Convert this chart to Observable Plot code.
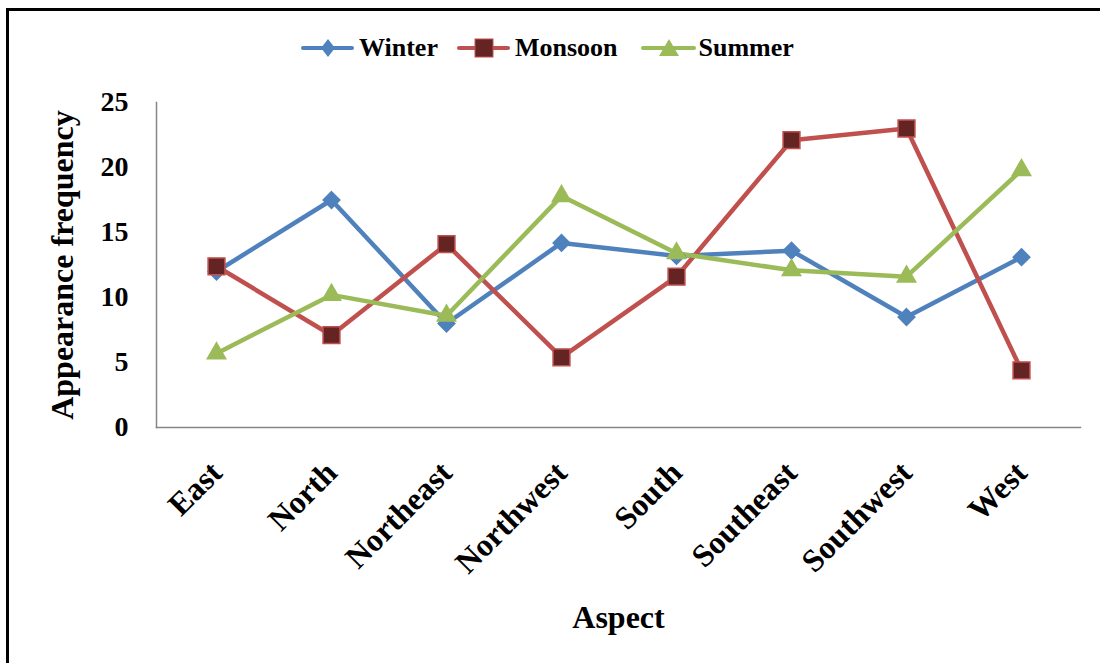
<!DOCTYPE html>
<html>
<head>
<meta charset="utf-8">
<script src="https://cdn.jsdelivr.net/npm/d3@7"></script>
<script src="https://cdn.jsdelivr.net/npm/@observablehq/plot@0.6"></script>
<style>
  html, body { margin: 0; padding: 0; background: #fff; }
  #wrap { position: relative; width: 1100px; height: 663px; overflow: hidden; font-family: "Liberation Serif", "Times New Roman", serif; }
  #frame { position: absolute; left: 6px; top: 8px; width: 1200px; height: 800px; border-top: 3px solid #000; border-left: 3px solid #000; box-sizing: border-box; pointer-events: none; }
  #legend { height: 75px; display: flex; align-items: center; justify-content: flex-start; padding-left: 300px; padding-top: 21px; box-sizing: border-box; }
  .item { display: flex; align-items: center; font-weight: bold; font-size: 26px; color: #000; line-height: 1; }
  .item svg { margin-right: 3px; }
  #chart svg { display: block; }
</style>
</head>
<body>
<div id="wrap">
  <div id="frame"></div>
  <div id="legend"></div>
  <div id="chart"></div>
</div>
<script>
const aspects = ["East", "North", "Northeast", "Northwest", "South", "Southeast", "Southwest", "West"];
const winter  = [12.0, 17.5, 8.0, 14.2, 13.2, 13.6, 8.5, 13.1];
const monsoon = [12.4, 7.1, 14.1, 5.4, 11.6, 22.1, 23.0, 4.4];
const summer  = [5.7, 10.2, 8.6, 17.8, 13.4, 12.1, 11.6, 19.8];
const seriesNames = ["Winter", "Monsoon", "Summer"];
const yTicks = [0, 5, 10, 15, 20, 25];

const colors = {Winter: "#4F81BD", Monsoon: "#C0504D", Summer: "#9BBB59"};

const rows = [];
[winter, monsoon, summer].forEach((vals, i) => {
  vals.forEach((v, j) => rows.push({series: seriesNames[i], aspect: aspects[j], value: v}));
});

// Legend
const legend = document.getElementById("legend");
const legendSymbols = {
  Winter: `<line x1="3" y1="11" x2="52" y2="11" stroke="#4F81BD" stroke-width="4" stroke-linecap="round"/><path d="M28,2 L35,11 L28,20 L21,11 Z" fill="#4F81BD"/>`,
  Monsoon: `<line x1="3" y1="11" x2="52" y2="11" stroke="#C0504D" stroke-width="4" stroke-linecap="round"/><rect x="19" y="2" width="18" height="18" fill="#632423" stroke="#C0504D" stroke-width="1"/>`,
  Summer: `<line x1="3" y1="11" x2="54" y2="11" stroke="#9BBB59" stroke-width="4" stroke-linecap="round"/><path d="M29,2 L39,19 L19,19 Z" fill="#9BBB59"/>`
};
const gaps = {Winter: 18, Monsoon: 22, Summer: 0};
seriesNames.forEach(s => {
  const d = document.createElement("div");
  d.className = "item";
  d.style.marginRight = gaps[s] + "px";
  d.innerHTML = `<svg width="56" height="22">${legendSymbols[s]}</svg><span>${s}</span>`;
  legend.appendChild(d);
});

const fontFamily = '"Liberation Serif", "Times New Roman", serif';

const chart = Plot.plot({
  width: 1100,
  height: 588,
  marginTop: 27,
  marginBottom: 236,
  marginLeft: 156,
  marginRight: 20,
  style: {fontFamily, background: "transparent", overflow: "visible"},
  x: {type: "point", domain: aspects, padding: 0.5, label: null},
  y: {domain: [0, 25], label: null},
  marks: [
    Plot.frame({anchor: "bottom", stroke: "#868686", strokeWidth: 1.5}),
    Plot.frame({anchor: "left", stroke: "#868686", strokeWidth: 1.5}),
    Plot.axisY({ticks: yTicks, tickSize: 0, tickPadding: 28, fontSize: 28, fontWeight: "bold", label: null, fill: "#000"}),
    Plot.axisX({tickSize: 0, tickRotate: -45, tickPadding: 40, fontSize: 32, fontWeight: "bold", label: null, fill: "#000"}),
    Plot.line(rows, {x: "aspect", y: "value", z: "series", stroke: d => colors[d.series], strokeWidth: 4.5}),
    Plot.dot(rows.filter(d => d.series === "Winter"), {x: "aspect", y: "value", symbol: "diamond2", r: 7.5, fill: "#4F81BD", stroke: "#4F81BD", strokeWidth: 1.5}),
    Plot.dot(rows.filter(d => d.series === "Monsoon"), {x: "aspect", y: "value", symbol: "square", r: 9.5, fill: "#632423", stroke: "#C0504D", strokeWidth: 1.5}),
    Plot.dot(rows.filter(d => d.series === "Summer"), {x: "aspect", y: "value", symbol: "triangle", r: 7.8, fill: "#9BBB59"}),
    Plot.text(["Appearance frequency"], {frameAnchor: "left", textAnchor: "middle", dx: -94, rotate: -90, fontSize: 32, fontWeight: "bold", fill: "#000"}),
    Plot.text(["Aspect"], {frameAnchor: "bottom", dy: 200, fontSize: 32, fontWeight: "bold", fill: "#000"})
  ]
});
document.getElementById("chart").appendChild(chart);
</script>
</body>
</html>
